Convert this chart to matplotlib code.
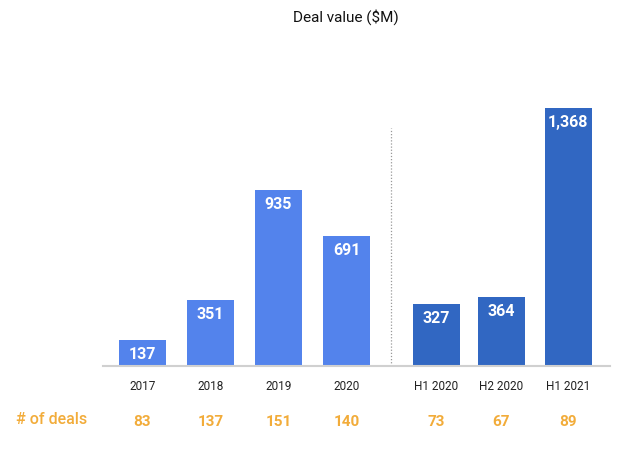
import numpy as np
import matplotlib
matplotlib.use("Agg")
import matplotlib.pyplot as plt

plt.rcParams["font.family"] = ["Roboto", "DejaVu Sans"]

periods = ["2017", "2018", "2019", "2020", "H1 2020", "H2 2020", "H1 2021"]
deal_value = [137, 351, 935, 691, 327, 364, 1368]
deal_count = [83, 137, 151, 140, 73, 67, 89]
is_half = [False, False, False, False, True, True, True]

LIGHT = "#5383EC"
DARK = "#3167C2"
ORANGE = "#F2AC3A"

# yearly bars evenly spaced, half-year group shifted right after a gap
xpos = np.array([0, 1, 2, 3, 4.32, 5.28, 6.26])

fig = plt.figure(figsize=(6.4, 4.63), dpi=100)
ax = fig.add_axes([0.161, 0.2095, 0.792, 0.611])

colors = [DARK if h else LIGHT for h in is_half]
bars = ax.bar(xpos, deal_value, width=0.69, color=colors, zorder=2)

for b, v in zip(bars, deal_value):
    ax.annotate(f"{v:,}", (b.get_x() + b.get_width() / 2, b.get_height()),
                xytext=(0, -10.5), textcoords="offset points",
                ha="center", va="center", color="white",
                fontsize=11.5, fontweight="bold")

# separator between yearly and half-year bars
sep = (xpos[3] + xpos[4]) / 2
ax.plot([sep, sep], [0, 1262], color="#999999", lw=0.9, ls=(0, (1, 1.5)), zorder=1)

ax.set_xlim(-0.58, 6.875)
ax.set_ylim(0, 1500)
ax.set_yticks([])
ax.set_xticks(xpos)
ax.set_xticklabels(periods, fontsize=8.5, color="#222222")
ax.tick_params(axis="x", length=0, pad=10)
for s in ("top", "right", "left"):
    ax.spines[s].set_visible(False)
ax.spines["bottom"].set_color("#d0d0d0")
ax.spines["bottom"].set_linewidth(1.5)

trans = ax.get_xaxis_transform()
for x, n in zip(xpos, deal_count):
    ax.text(x, -0.198, str(n), transform=trans, ha="center", va="center",
            color=ORANGE, fontsize=11, fontweight="bold")

fig.text(0.081, 0.095, "# of deals", ha="center", va="center",
         color=ORANGE, fontsize=11.5, fontweight="medium")
fig.text(0.54, 0.963, "Deal value ($M)", ha="center", va="center",
         color="#111111", fontsize=11)

fig.savefig("out.png", dpi=100)
